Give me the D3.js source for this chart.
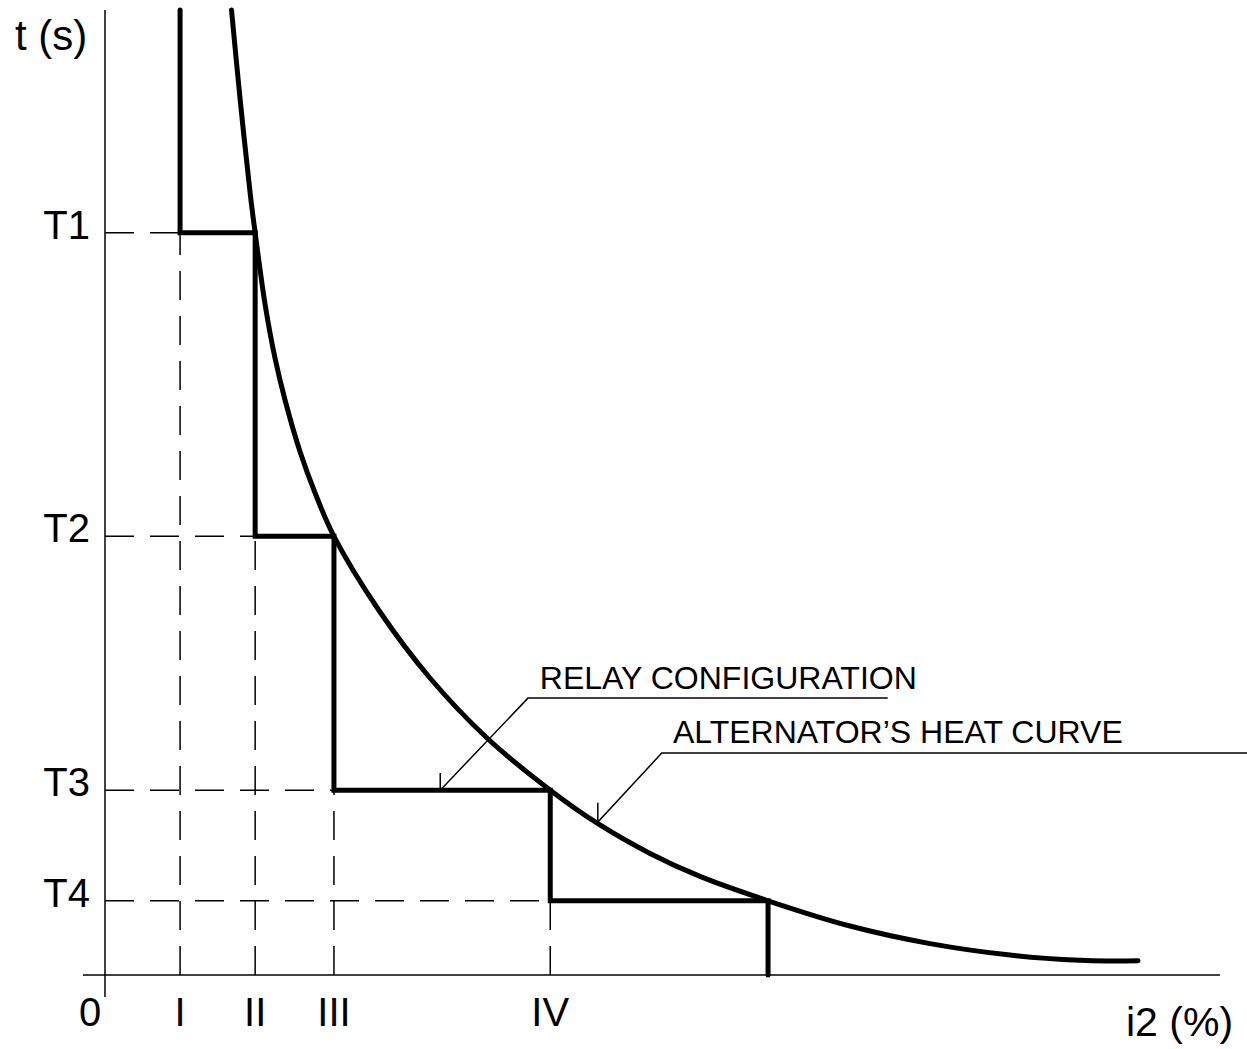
<!DOCTYPE html>
<html>
<head>
<meta charset="utf-8">
<script src="https://cdn.jsdelivr.net/npm/d3@7"></script>
<style>
  html, body { margin: 0; padding: 0; background: #fff; }
  svg { display: block; }
  text { font-family: "Liberation Sans", Arial, sans-serif; fill: #000; }
</style>
</head>
<body>
<script>
const width = 1247;
const height = 1049;

// Current settings (i2 %)
const stepNames = ["I", "II", "III", "IV"];
const stepCurrent = [10.1, 20.2, 30.8, 59.9];
const lastCurrent = 89.2;

// Time settings (s)
const timeNames = ["T1", "T2", "T3", "T4"];
const timeValues = [100, 59.1, 24.9, 10];

// Alternator heat curve (i2, t)
const heatI = [17.02, 18.16, 19.57, 20.2, 21.53, 22.87, 24.22, 26.23, 28.25, 30.8, 37.0, 43.72, 51.39, 59.9, 66.59, 73.32, 80.05, 89.2, 100.22, 110.99, 121.75, 131.17, 135.2, 138.97];
const heatT = [130, 118.15, 104.94, 100, 90.39, 83.12, 77.46, 70.52, 64.97, 59.1, 48.9, 40.01, 31.93, 24.9, 20.21, 16.38, 13.28, 10, 6.6, 4.23, 2.69, 1.98, 1.89, 1.91];

const xMax = 150;
const tMax = 130;

const x = d3.scaleLinear().domain([0, xMax]).range([105, 1220]);
const y = d3.scaleLinear().domain([0, tMax]).range([975, 10]);

const svg = d3.select("body").append("svg")
    .attr("width", width)
    .attr("height", height);

// Axes (plain lines)
svg.append("line")
    .attr("x1", x(0)).attr("x2", x(0))
    .attr("y1", y(tMax)).attr("y2", y(0) + 22)
    .attr("stroke", "#000").attr("stroke-width", 1.5);
svg.append("line")
    .attr("x1", x(0) - 22).attr("x2", x(xMax))
    .attr("y1", y(0)).attr("y2", y(0))
    .attr("stroke", "#000").attr("stroke-width", 1.5);

// Dashed guides
const guides = svg.append("g")
    .attr("stroke", "#000")
    .attr("stroke-width", 1.5)
    .attr("stroke-dasharray", "29,16")
    .attr("fill", "none");

timeValues.forEach((t, i) => {
    guides.append("line")
        .attr("x1", x(0)).attr("x2", x(stepCurrent[i]))
        .attr("y1", y(t)).attr("y2", y(t));
    guides.append("line")
        .attr("x1", x(stepCurrent[i])).attr("x2", x(stepCurrent[i]))
        .attr("y1", y(0)).attr("y2", y(t));
});

// Relay configuration staircase
const relayX = stepCurrent.concat([lastCurrent]);
const relayPts = [[relayX[0], tMax]];
timeValues.forEach((t, i) => {
    relayPts.push([relayX[i], t]);
    relayPts.push([relayX[i + 1], t]);
});
relayPts.push([lastCurrent, 0]);

const line = d3.line().x(d => x(d[0])).y(d => y(d[1]));

svg.append("path")
    .attr("d", line(relayPts))
    .attr("fill", "none")
    .attr("stroke", "#000")
    .attr("stroke-width", 5)
    .attr("stroke-linejoin", "miter")
    .attr("stroke-linecap", "round");

// Heat curve
const heatPts = heatI.map((v, i) => [v, heatT[i]]);
const heatLine = d3.line()
    .x(d => x(d[0]))
    .y(d => y(d[1]))
    .curve(d3.curveCatmullRom.alpha(0.5));

svg.append("path")
    .attr("d", heatLine(heatPts))
    .attr("fill", "none")
    .attr("stroke", "#000")
    .attr("stroke-width", 5)
    .attr("stroke-linecap", "round");

// Leader annotations
const notes = [
    { text: "RELAY CONFIGURATION", at: [45.1, 24.9], tick: 27.2, elbow: [56.9, 37.3], end: 105.3, label: [58.5, 38.5] },
    { text: "ALTERNATOR\u2019S HEAT CURVE", at: [66.3, 20.6], tick: 23.2, elbow: [74.9, 29.9], end: 154, label: [76.4, 31.3] }
];

notes.forEach(n => {
    const g = svg.append("g");
    g.append("path")
        .attr("d", d3.line()([[x(n.at[0]), y(n.tick)], [x(n.at[0]), y(n.at[1])], [x(n.elbow[0]), y(n.elbow[1])], [x(n.end), y(n.elbow[1])]]))
        .attr("fill", "none")
        .attr("stroke", "#000")
        .attr("stroke-width", 1.5);
    g.append("text")
        .attr("x", x(n.label[0]))
        .attr("y", y(n.label[1]))
        .attr("font-size", 32)
        .text(n.text);
});

// Time labels
svg.selectAll("text.tlab")
    .data(timeNames)
    .enter()
    .append("text")
    .attr("class", "tlab")
    .attr("x", 90)
    .attr("y", (d, i) => y(timeValues[i]) + 6)
    .attr("text-anchor", "end")
    .attr("font-size", 40)
    .text(d => d);

// Current labels
svg.selectAll("text.ilab")
    .data(stepNames)
    .enter()
    .append("text")
    .attr("class", "ilab")
    .attr("x", (d, i) => x(stepCurrent[i]))
    .attr("y", 1026)
    .attr("text-anchor", "middle")
    .attr("font-size", 40)
    .text(d => d);

svg.append("text")
    .attr("x", x(0) - 15).attr("y", 1026)
    .attr("text-anchor", "middle")
    .attr("font-size", 40)
    .text("0");

// Axis titles
svg.append("text")
    .attr("x", 15).attr("y", 50)
    .attr("font-size", 42)
    .text("t (s)");

svg.append("text")
    .attr("x", 1126).attr("y", 1036)
    .attr("font-size", 41)
    .text("i2 (%)");
</script>
</body>
</html>
